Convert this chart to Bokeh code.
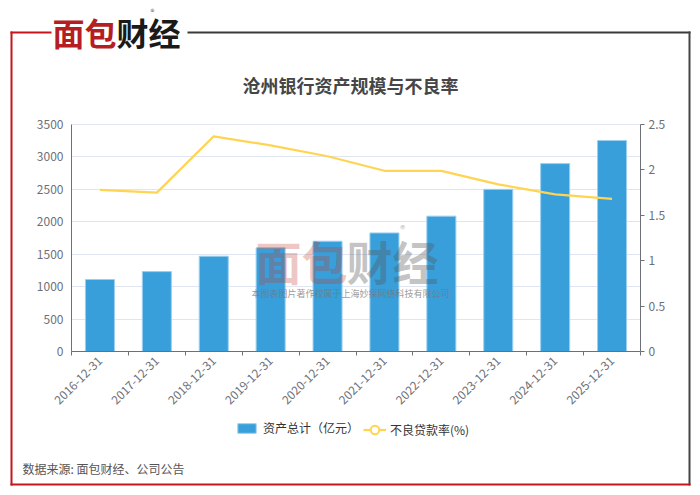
import math
from bokeh.plotting import figure
from bokeh.models import (ColumnDataSource, Range1d, LinearAxis,
                          FixedTicker, Label, BoxAnnotation, Legend, LegendItem, Grid,
                          NumeralTickFormatter)
from bokeh.embed import file_html
from bokeh.resources import INLINE

# ---------------- data ----------------
dates = ["2016-12-31", "2017-12-31", "2018-12-31", "2019-12-31", "2020-12-31",
         "2021-12-31", "2022-12-31", "2023-12-31", "2024-12-31", "2025-12-31"]
assets = [1110, 1232, 1469, 1598, 1700, 1828, 2087, 2500, 2897, 3253]   # 资产总计（亿元）
npl = [1.78, 1.75, 2.37, 2.27, 2.15, 1.99, 1.99, 1.84, 1.73, 1.68]      # 不良贷款率(%)
left_ticks = [0, 500, 1000, 1500, 2000, 2500, 3000, 3500]
right_ticks = [0, 0.5, 1, 1.5, 2, 2.5]
right_tick_labels = ["0", "0.5", "1", "1.5", "2", "2.5"]

title_text = "沧州银行资产规模与不良率"
bar_name = "资产总计（亿元）"
line_name = "不良贷款率(%)"
source_text = "数据来源: 面包财经、公司公告"
wm_text = "本图表图片著作权属于上海妙探网络科技有限公司"

FONT = "Noto Sans CJK SC"
AX = "#6E7079"
BAR = "#389FDA"
LINE = "#FFD452"
RED = "#C4161C"

# ---------------- layout (pixels) ----------------
W, H = 700, 495
PX_L, PX_R, PX_T, PX_B = 71, 640, 124, 351   # plotting area inside the canvas

n = len(dates)
ymax = left_ticks[-1]
rmax = right_ticks[-1]
xpos = [i + 0.5 for i in range(n)]          # category centres
edges = list(range(n + 1))                  # category boundaries

KX = (PX_R - PX_L) / n
KY = (PX_B - PX_T) / ymax
KR = (PX_B - PX_T) / rmax
x_range = Range1d(-PX_L / KX, n + (W - PX_R) / KX)
y_range = Range1d(-(H - PX_B) / KY, ymax + PX_T / KY)
r_range = Range1d(-(H - PX_B) / KR, rmax + PX_T / KR)


def sx(px):
    return px


def sy(py):
    return H - py


p = figure(width=W, height=H, x_range=x_range, y_range=y_range,
           output_backend="svg", toolbar_location=None,
           x_axis_location=None, y_axis_location=None,
           min_border=0, min_border_left=0, min_border_right=0,
           min_border_top=0, min_border_bottom=0)
p.outline_line_color = None
p.background_fill_color = "white"
p.border_fill_color = "white"
p.grid.visible = False
p.extra_y_ranges = {"npl": r_range}

# grid
grid = Grid(dimension=1, ticker=FixedTicker(ticks=left_ticks), grid_line_color="#E0E6F1",
            grid_line_width=1, bounds=(0, ymax), cross_bounds=(0, n))
p.add_layout(grid)

# left axis
yl = LinearAxis(ticker=FixedTicker(ticks=left_ticks), fixed_location=0, bounds=(0, ymax))
yl.axis_line_color = AX
yl.major_tick_out = 0
yl.major_tick_in = 0
yl.minor_tick_out = 0
yl.minor_tick_in = 0
yl.major_label_standoff = 8
yl.major_label_text_font = FONT
yl.major_label_text_font_size = "12px"
yl.major_label_text_color = AX
p.add_layout(yl, "left")

# right axis
yr = LinearAxis(y_range_name="npl", ticker=FixedTicker(ticks=right_ticks),
                formatter=NumeralTickFormatter(format="0.[0]"),
                major_label_overrides=dict(zip(right_ticks, right_tick_labels)),
                fixed_location=n, bounds=(0, rmax))
yr.axis_line_color = AX
yr.major_tick_out = 4
yr.major_tick_in = 0
yr.major_tick_line_color = AX
yr.minor_tick_out = 0
yr.minor_tick_in = 0
yr.major_label_standoff = 4
yr.major_label_text_font = FONT
yr.major_label_text_font_size = "12px"
yr.major_label_text_color = AX
p.add_layout(yr, "right")

# x axis: tick marks at category boundaries
xt = LinearAxis(ticker=FixedTicker(ticks=edges), fixed_location=0, bounds=(0, n))
xt.axis_line_color = AX
xt.major_tick_out = 4
xt.major_tick_in = 0
xt.major_tick_line_color = AX
xt.minor_tick_out = 0
xt.minor_tick_in = 0
xt.major_label_standoff = 0
xt.major_label_text_font_size = "0px"
xt.major_label_text_alpha = 0
p.add_layout(xt, "below")

# x axis: category labels at centres
xc = LinearAxis(ticker=FixedTicker(ticks=xpos), major_label_overrides=dict(zip(xpos, dates)),
                fixed_location=0)
xc.axis_line_color = None
xc.major_tick_out = 0
xc.major_tick_in = 0
xc.minor_tick_out = 0
xc.minor_tick_in = 0
xc.major_label_orientation = math.pi / 4
xc.major_label_standoff = 7
xc.major_label_text_font = FONT
xc.major_label_text_font_size = "12px"
xc.major_label_text_color = AX
p.add_layout(xc, "below")

src = ColumnDataSource(dict(x=xpos, date=dates, assets=assets, npl=npl))
bars = p.vbar(x="x", top="assets", width=0.51, source=src, fill_color=BAR,
              line_color="#9ccfef", line_width=1)
ln = p.line(x="x", y="npl", source=src, y_range_name="npl", line_color=LINE,
            line_width=2.2)
# symbol used only for the legend entry (no visible markers on the line itself)
proxy = p.scatter(x="x", y="npl", source=src, y_range_name="npl", size=0,
                  marker="circle", fill_color="white", line_color=LINE, line_width=2)

# legends
leg1 = Legend(items=[LegendItem(label=bar_name, renderers=[bars])],
              location=(sx(235), sy(436)), orientation="horizontal",
              glyph_width=23, glyph_height=12, label_height=12, label_standoff=5,
              padding=0, margin=0, border_line_color=None, background_fill_alpha=0,
              label_text_font=FONT, label_text_font_size="12px", label_text_color="#333333")
p.add_layout(leg1)
leg2 = Legend(items=[LegendItem(label=line_name, renderers=[ln, proxy])],
              location=(sx(363), sy(440)), orientation="horizontal",
              glyph_width=23, glyph_height=21, label_height=12, label_standoff=4,
              padding=0, margin=0, border_line_color=None, background_fill_alpha=0,
              label_text_font=FONT, label_text_font_size="12px", label_text_color="#333333")
p.add_layout(leg2)


def lab(text, x, y, size, color, align="left", baseline="middle", style="normal", alpha=1.0):
    p.add_layout(Label(text=text, x=sx(x), y=sy(y), x_units="screen", y_units="screen",
                       text_font=FONT, text_font_size=size, text_color=color,
                       text_align=align, text_baseline=baseline, text_font_style=style,
                       text_alpha=alpha))


def box(l, r, t, b, color):
    p.add_layout(BoxAnnotation(left=sx(l), right=sx(r), top=sy(t), bottom=sy(b),
                               left_units="screen", right_units="screen",
                               top_units="screen", bottom_units="screen",
                               fill_color=color, fill_alpha=1, line_color=None))


# frame lines
box(10, 12, 31, 485, RED)
box(10, 51, 31, 33, RED)
box(187, 690, 31, 33, "#3a3a3a")
box(688, 690, 31, 485, "#444444")
box(10, 690, 483, 485, RED)

# logo
lab("面包", 52, 31, "32px", "#B51F24", style="bold")
lab("财经", 116, 31, "32px", "#1a1a1a", style="bold")
lab("®", 152, 11, "8px", "#555555", align="center")

# title
lab(title_text, 350, 84, "18px", "#464646", align="center", style="bold")

# watermark
lab("面包", 255, 259, "46px", "#C0392B", style="bold", alpha=0.3)
lab("财经", 346, 259, "46px", "#555555", style="bold", alpha=0.35)
lab("®", 402, 228, "10px", "#888888", align="center", alpha=0.6)
lab(wm_text, 350, 293, "9px", "#777777", align="center", alpha=0.75)

# source
lab(source_text, 22, 468, "12px", "#555555")

open("out.html", "w").write(file_html(p, INLINE))
